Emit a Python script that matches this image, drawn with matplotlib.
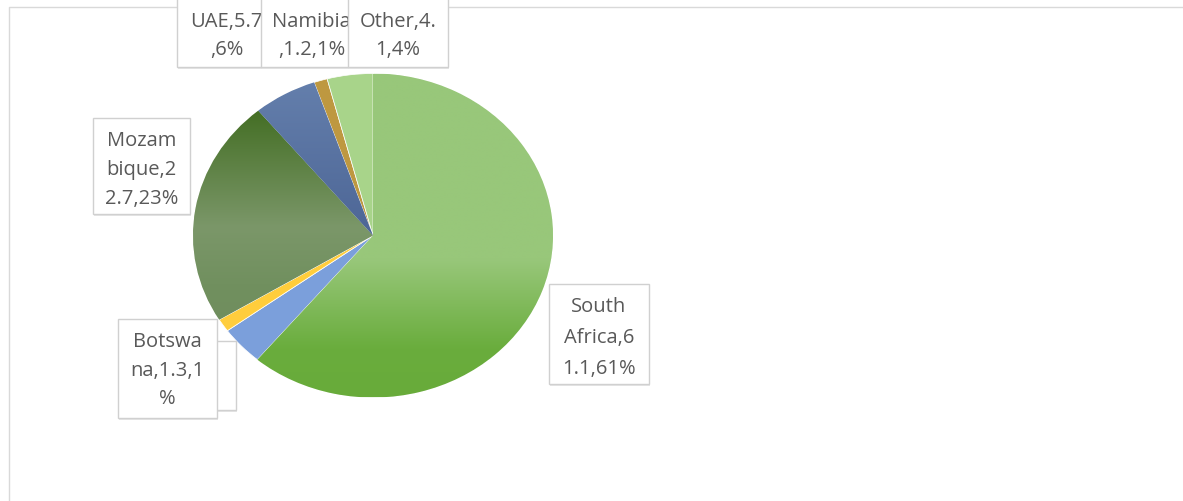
import numpy as np
import matplotlib.pyplot as plt
from matplotlib.patches import Rectangle
from matplotlib.colors import to_rgb

# import shares by source
countries = ['South Africa', 'Zambia', 'Botswana', 'Mozambique', 'UAE', 'Namibia', 'Other']
values = [61.1, 3.9, 1.3, 22.7, 5.7, 1.2, 4.1]

colors = ['#98c77a', '#7b9fdb', '#ffcd3c', '#6e8b5d', '#5a74a2', '#be9840', '#a8d48a']

# vertical colour ramps (y in pie units) for the shaded slices
ramps = {
    'South Africa': [(-1.0, '#68ab3a'), (-0.7, '#6aad3d'), (-0.15, '#98c77a'), (1.0, '#98c77a')],
    'Mozambique': [(-1.0, '#6d8a5d'), (-0.3, '#71905f'), (0.05, '#7b9769'), (0.85, '#3e6a1d'), (1.0, '#3e6a1d')],
    'UAE': [(0.0, '#4d6696'), (1.0, '#6580ad')],
}

# label boxes in pixels: x0, x1, y0, y1, line y positions, text split points
boxes = {
    'Zambia':       (140, 236, 342, 411, [371, 395], [5, 11]),
    'Botswana':     (118, 217, 320, 419, [342, 371, 399], [6, 14]),
    'South Africa': (549, 649, 285, 385, [307, 338, 369], [5, 14]),
    'Mozambique':   (93, 190, 119, 215, [141, 170, 199], [5, 12]),
    'UAE':          (177, 276, -6, 68, [22, 50], [7]),
    'Namibia':      (261, 362, -6, 68, [22, 50], [7]),
    'Other':        (348, 448, -6, 68, [22, 50], [8]),
}
draw_order = ['Zambia', 'Botswana', 'South Africa', 'Mozambique', 'UAE', 'Namibia', 'Other']

W, H = 1183, 502
fig = plt.figure(figsize=(W / 100, H / 100), dpi=100)

# pie axes, slightly wider than tall
cx, cy, rx, ry = 373, 236.5, 180, 162
ax = fig.add_axes([(cx - rx) / W, 1 - (cy + ry) / H, 2 * rx / W, 2 * ry / H])
wedges, _ = ax.pie(values, colors=colors, startangle=90, counterclock=False,
                   radius=1, wedgeprops=dict(edgecolor='white', linewidth=0.5))

yy = np.linspace(-1, 1, 300)
for name, w in zip(countries, wedges):
    if name not in ramps:
        continue
    stops = ramps[name]
    ys = [s[0] for s in stops]
    cols = np.array([to_rgb(s[1]) for s in stops])
    grad = np.stack([np.interp(yy, ys, cols[:, k]) for k in range(3)], axis=1)
    img = grad[:, None, :]
    im = ax.imshow(img, extent=(-1, 1, -1, 1), origin='lower', aspect='auto',
                   interpolation='bilinear', zorder=w.get_zorder() + 0.1)
    im.set_clip_path(w)

ax.set_aspect('auto')
ax.set_xlim(-1, 1)
ax.set_ylim(-1, 1)
ax.axis('off')

# overlay in pixel coordinates for frame and labels
ov = fig.add_axes([0, 0, 1, 1], zorder=5)
ov.set_xlim(0, W)
ov.set_ylim(H, 0)
ov.axis('off')
ov.patch.set_alpha(0)

ov.plot([9, 9, W], [H, 8, 8], color='#d9d9d9', lw=1, zorder=1)

total = sum(values)
for i, name in enumerate(draw_order):
    idx = countries.index(name)
    v = values[idx]
    label = f'{name},{v:g},{round(v / total * 100)}%'
    x0, x1, y0, y1, line_y, cuts = boxes[name]
    z = 3 + i
    ov.add_patch(Rectangle((x0 + 1.5, y0 + 2), x1 - x0, y1 - y0, facecolor='#e6e6e6',
                           edgecolor='none', zorder=z - 0.02))
    ov.add_patch(Rectangle((x0, y0), x1 - x0, y1 - y0, facecolor='white',
                           edgecolor='#d0d0d0', lw=1, zorder=z))
    parts = []
    start = 0
    for c in cuts + [len(label)]:
        parts.append(label[start:c].strip())
        start = c
    for ly, txt in zip(line_y, parts):
        ov.text((x0 + x1) / 2, ly, txt, ha='center', va='center', fontsize=14.5,
                family='Open Sans', color='#595959', zorder=z + 0.01)

fig.savefig('out.png', dpi=100)
